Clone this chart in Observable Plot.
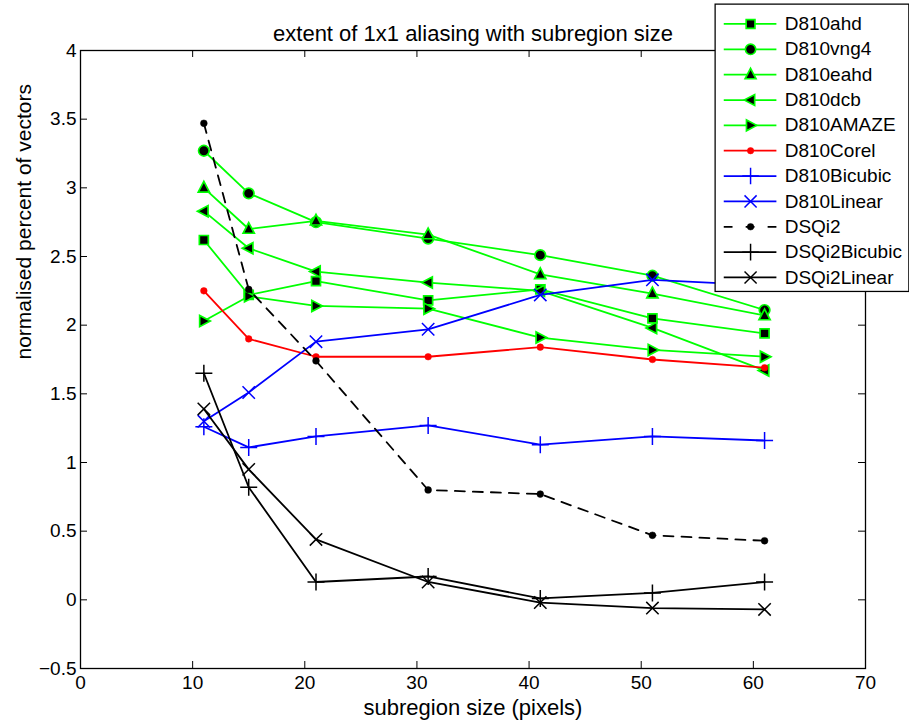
<!DOCTYPE html>
<html><head><meta charset="utf-8">
<script src="https://cdn.jsdelivr.net/npm/d3@7"></script>
<script src="https://cdn.jsdelivr.net/npm/@observablehq/plot@0.6"></script>
<style>
html,body{margin:0;padding:0;background:#fff;overflow:hidden}
#wrap{position:relative;width:909px;height:724px}
#legend{position:absolute;left:714px;top:3px}
</style>
</head><body>
<div id="wrap"><div id="main"></div><div id="legend"></div></div>
<script>
// ---- data ----
const subregion = [11, 15, 21, 31, 41, 51, 61];
const D810ahd      = [2.62, 2.22, 2.32, 2.18, 2.26, 2.05, 1.94];
const D810vng4     = [3.27, 2.96, 2.75, 2.63, 2.51, 2.36, 2.11];
const D810eahd     = [3.00, 2.70, 2.76, 2.66, 2.37, 2.23, 2.07];
const D810dcb      = [2.83, 2.56, 2.39, 2.31, 2.25, 1.98, 1.67];
const D810AMAZE    = [2.03, 2.21, 2.14, 2.12, 1.91, 1.82, 1.77];
const D810Corel    = [2.25, 1.90, 1.77, 1.77, 1.84, 1.75, 1.69];
const D810Bicubic  = [1.26, 1.11, 1.19, 1.27, 1.13, 1.19, 1.16];
const D810Linear   = [1.30, 1.51, 1.88, 1.97, 2.22, 2.33, 2.29];
const DSQi2        = [3.47, 2.26, 1.74, 0.80, 0.77, 0.47, 0.43];
const DSQi2Bicubic = [1.65, 0.82, 0.13, 0.17, 0.01, 0.05, 0.13];
const DSQi2Linear  = [1.39, 0.95, 0.44, 0.13, -0.02, -0.06, -0.07];
const seriesNames = ["D810ahd","D810vng4","D810eahd","D810dcb","D810AMAZE","D810Corel","D810Bicubic","D810Linear","DSQi2","DSQi2Bicubic","DSQi2Linear"];
const seriesValues = [D810ahd,D810vng4,D810eahd,D810dcb,D810AMAZE,D810Corel,D810Bicubic,D810Linear,DSQi2,DSQi2Bicubic,DSQi2Linear];
const xTicks = [0, 10, 20, 30, 40, 50, 60, 70];
const yTicks = [-0.5, 0, 0.5, 1, 1.5, 2, 2.5, 3, 3.5, 4];
const titleText = "extent of 1x1 aliasing with subregion size";
const xLabel = "subregion size (pixels)";
const yLabel = "normalised percent of vectors";

// ---- marker shapes ----
const mk = fn => ({draw(ctx, size){ const r = Math.sqrt(size/Math.PI); fn(ctx, r); }});
const SQUARE = mk((c,r)=>{c.moveTo(-r,-r);c.lineTo(r,-r);c.lineTo(r,r);c.lineTo(-r,r);c.closePath();});
const CIRCLE = mk((c,r)=>{c.moveTo(r,0);c.arc(0,0,r,0,2*Math.PI);});
const TRIUP = mk((c,r)=>{c.moveTo(0,-r*1.15);c.lineTo(r,r*0.75);c.lineTo(-r,r*0.75);c.closePath();});
const TRILEFT = mk((c,r)=>{c.moveTo(-r*1.15,0);c.lineTo(r*0.75,-r);c.lineTo(r*0.75,r);c.closePath();});
const TRIRIGHT = mk((c,r)=>{c.moveTo(r*1.15,0);c.lineTo(-r*0.75,-r);c.lineTo(-r*0.75,r);c.closePath();});
const PLUS = mk((c,r)=>{c.moveTo(-r,0);c.lineTo(r,0);c.moveTo(0,-r);c.lineTo(0,r);});
const TIMES = mk((c,r)=>{c.moveTo(-r,-r);c.lineTo(r,r);c.moveTo(-r,r);c.lineTo(r,-r);});

const G = "#00ff00", R = "#ff0000", B = "#0000ff", K = "#000000";
const styles = [
  {color:G, sym:SQUARE,  r:4.5, fill:K, mstroke:G, msw:1.7},
  {color:G, sym:CIRCLE,  r:5.3, fill:K, mstroke:G, msw:1.7},
  {color:G, sym:TRIUP,   r:5.6, fill:K, mstroke:G, msw:1.7},
  {color:G, sym:TRILEFT, r:5.6, fill:K, mstroke:G, msw:1.7},
  {color:G, sym:TRIRIGHT,r:5.6, fill:K, mstroke:G, msw:1.7},
  {color:R, sym:CIRCLE,  r:3.3, fill:R, mstroke:R, msw:0.5},
  {color:B, sym:PLUS,    r:8.5, fill:"none", mstroke:B, msw:1.5},
  {color:B, sym:TIMES,   r:6.2, fill:"none", mstroke:B, msw:1.5},
  {color:K, sym:CIRCLE,  r:3.4, fill:K, mstroke:K, msw:0.5, dash:"10,8", ldash:"9,13.5"},
  {color:K, sym:PLUS,    r:8.5, fill:"none", mstroke:K, msw:1.5},
  {color:K, sym:TIMES,   r:6.2, fill:"none", mstroke:K, msw:1.5}
];

const W = 909, H = 724, mL = 80, mR = 44, mT = 50, mB = 56;
const fw = W - mL - mR, fh = H - mT - mB, tl = 7;
const font = "'Liberation Sans', Arial, Helvetica, sans-serif";
const fmt = d => (d < 0 ? "\u2212" : "") + String(Math.abs(d));

const seriesMarks = [];
seriesNames.forEach((name, k) => {
  const rows = subregion.map((x, i) => ({x, y: seriesValues[k][i]}));
  const s = styles[k];
  seriesMarks.push(Plot.line(rows, {x:"x", y:"y", stroke:s.color, strokeWidth:1.8, strokeDasharray:s.dash, strokeLinejoin:"round"}));
  seriesMarks.push(Plot.dot(rows, {x:"x", y:"y", symbol:s.sym, r:s.r, fill:s.fill, stroke:s.mstroke, strokeWidth:s.msw}));
});

const main = Plot.plot({
  width: W, height: H,
  marginLeft: mL, marginRight: mR, marginTop: mT, marginBottom: mB,
  style: {fontFamily: font, fontSize: "19px", background: "white", color: "black", overflow: "visible"},
  x: {domain: [0, 70]},
  y: {domain: [-0.5, 4]},
  marks: [
    Plot.tickX(xTicks, {x: d => d, insetTop: fh - tl, stroke: K, strokeWidth: 1}),
    Plot.tickX(xTicks, {x: d => d, insetBottom: fh - tl, stroke: K, strokeWidth: 1}),
    Plot.tickY(yTicks, {y: d => d, insetRight: fw - tl, stroke: K, strokeWidth: 1}),
    Plot.tickY(yTicks, {y: d => d, insetLeft: fw - tl, stroke: K, strokeWidth: 1}),
    Plot.axisX({ticks: xTicks, tickSize: 0, tickPadding: 7, label: null, tickFormat: fmt}),
    Plot.axisY({ticks: yTicks, tickSize: 0, tickPadding: 4, label: null, tickFormat: fmt}),
    ...seriesMarks,
    Plot.frame({stroke: K, strokeWidth: 1.3}),
    Plot.text([titleText], {text: d => d, frameAnchor: "top", dy: -17, lineAnchor: "middle", fontSize: 22}),
    Plot.text([xLabel], {text: d => d, frameAnchor: "bottom", dy: 39, lineAnchor: "middle", fontSize: 22}),
    Plot.text([yLabel], {text: d => d, frameAnchor: "left", dx: -56, rotate: -90, lineAnchor: "middle", fontSize: 21})
  ]
});
document.getElementById("main").appendChild(main);

// ---- legend ----
const LW = 200, LH = 296;
const legendMarks = [Plot.frame({fill: "white", stroke: K, strokeWidth: 1.3, inset: 0.65})];
seriesNames.forEach((name, k) => {
  const s = styles[k];
  legendMarks.push(Plot.ruleY([name], {y: d => d, x1: 10, x2: 64, stroke: s.color, strokeWidth: 1.8, strokeDasharray: s.ldash}));
  legendMarks.push(Plot.dot([name], {x: 37, y: d => d, symbol: s.sym, r: s.r, fill: s.fill, stroke: s.mstroke, strokeWidth: s.msw}));
  legendMarks.push(Plot.text([name], {x: 72, y: d => d, text: d => d, textAnchor: "start", lineAnchor: "middle", fontSize: 19.5}));
});
const legend = Plot.plot({
  width: LW, height: LH, margin: 0,
  style: {fontFamily: font, fontSize: "19.5px", background: "transparent", color: "black", overflow: "visible"},
  x: {type: "linear", domain: [0, LW], range: [0, LW], axis: null},
  y: {type: "point", domain: seriesNames, range: [19.7, 19.7 + 26.2 * 10], padding: 0, axis: null},
  marks: legendMarks
});
document.getElementById("legend").appendChild(legend);
</script>
</body></html>
